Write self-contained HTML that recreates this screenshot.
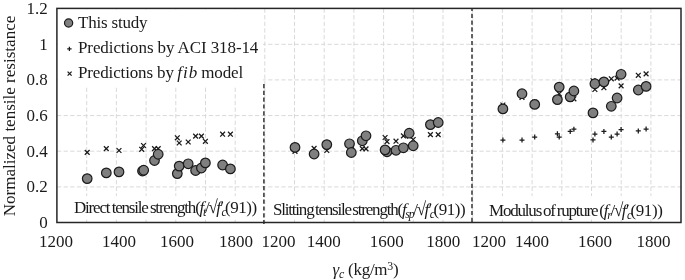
<!DOCTYPE html>
<html><head><meta charset="utf-8"><style>
html,body{margin:0;padding:0;background:#fff;}
body{filter:grayscale(1);}
body{width:685px;height:280px;position:relative;overflow:hidden;font-family:"Liberation Serif",serif;color:#1a1a1a;}
svg{position:absolute;left:0;top:0;}
.g{stroke:#d9d9d9;stroke-width:1;stroke-dasharray:4.3 2.3;}
.dv{stroke:#4a4a4a;stroke-width:1.7;stroke-dasharray:4.2 2.6;}
.x{stroke:#1a1a1a;stroke-width:1.25;fill:none;}
.c{fill:#7f7f7f;stroke:#1a1a1a;stroke-width:1.2;}
.t{position:absolute;white-space:nowrap;font-size:17px;line-height:1;letter-spacing:-0.14px;}
.yl{position:absolute;white-space:nowrap;font-size:17px;line-height:1;text-align:right;width:30px;transform:scaleY(1.04);transform-origin:0 0.5em;}
.xl{position:absolute;white-space:nowrap;font-size:17px;line-height:1;width:40px;text-align:center;}
.lab{position:absolute;white-space:nowrap;font-size:17px;line-height:1;letter-spacing:-1.2px;transform:scaleY(1.04);transform-origin:0 0.84em;}
i{font-style:italic;}
.f1{letter-spacing:-1.3px;}
.rd{display:inline-block;transform:scale(1.0,1.08);transform-origin:0 0.84em;letter-spacing:-1.6px;}
.f2{letter-spacing:-1.6px;}
.f3{letter-spacing:-0.45px;}
sub{font-size:0.7em;vertical-align:baseline;position:relative;top:0.25em;}
</style></head><body>
<svg width="685" height="280" viewBox="0 0 685 280">
<line x1="57" y1="186.9" x2="681" y2="186.9" class="g"/>
<line x1="57" y1="151.2" x2="681" y2="151.2" class="g"/>
<line x1="57" y1="115.6" x2="681" y2="115.6" class="g"/>
<line x1="57" y1="79.9" x2="681" y2="79.9" class="g"/>
<line x1="57" y1="44.3" x2="681" y2="44.3" class="g"/>
<line x1="86.7" y1="8.5" x2="86.7" y2="222" class="g"/>
<line x1="116.4" y1="8.5" x2="116.4" y2="222" class="g"/>
<line x1="146.1" y1="8.5" x2="146.1" y2="222" class="g"/>
<line x1="175.8" y1="8.5" x2="175.8" y2="222" class="g"/>
<line x1="205.5" y1="8.5" x2="205.5" y2="222" class="g"/>
<line x1="235.2" y1="8.5" x2="235.2" y2="222" class="g"/>
<line x1="264.8" y1="8.5" x2="264.8" y2="222" class="g"/>
<line x1="294.5" y1="8.5" x2="294.5" y2="222" class="g"/>
<line x1="324.2" y1="8.5" x2="324.2" y2="222" class="g"/>
<line x1="353.9" y1="8.5" x2="353.9" y2="222" class="g"/>
<line x1="383.6" y1="8.5" x2="383.6" y2="222" class="g"/>
<line x1="413.3" y1="8.5" x2="413.3" y2="222" class="g"/>
<line x1="443.0" y1="8.5" x2="443.0" y2="222" class="g"/>
<line x1="472.7" y1="8.5" x2="472.7" y2="222" class="g"/>
<line x1="502.4" y1="8.5" x2="502.4" y2="222" class="g"/>
<line x1="532.1" y1="8.5" x2="532.1" y2="222" class="g"/>
<line x1="561.8" y1="8.5" x2="561.8" y2="222" class="g"/>
<line x1="591.5" y1="8.5" x2="591.5" y2="222" class="g"/>
<line x1="621.2" y1="8.5" x2="621.2" y2="222" class="g"/>
<line x1="650.9" y1="8.5" x2="650.9" y2="222" class="g"/>
<rect x="58" y="9.5" width="205" height="77" fill="#fff"/>
<rect x="60" y="196" width="202" height="23" fill="#fff"/>
<rect x="267" y="196" width="202" height="23" fill="#fff"/>
<rect x="475" y="196" width="204" height="23" fill="#fff"/>
<line x1="263.9" y1="84" x2="263.9" y2="224" class="dv"/>
<line x1="472" y1="8.4" x2="472" y2="224" class="dv" style="stroke-dashoffset:1.5"/>
<path d="M84.80 150.00L89.60 154.80M84.80 154.80L89.60 150.00" class="x"/>
<path d="M103.90 146.20L108.70 151.00M103.90 151.00L108.70 146.20" class="x"/>
<path d="M116.60 148.10L121.40 152.90M116.60 152.90L121.40 148.10" class="x"/>
<path d="M139.30 146.90L144.10 151.70M139.30 151.70L144.10 146.90" class="x"/>
<path d="M141.10 143.10L145.90 147.90M141.10 147.90L145.90 143.10" class="x"/>
<path d="M152.10 146.20L156.90 151.00M152.10 151.00L156.90 146.20" class="x"/>
<path d="M155.80 146.20L160.60 151.00M155.80 151.00L160.60 146.20" class="x"/>
<path d="M174.90 135.40L179.70 140.20M174.90 140.20L179.70 135.40" class="x"/>
<path d="M176.80 140.60L181.60 145.40M176.80 145.40L181.60 140.60" class="x"/>
<path d="M185.80 139.60L190.60 144.40M185.80 144.40L190.60 139.60" class="x"/>
<path d="M193.20 133.70L198.00 138.50M193.20 138.50L198.00 133.70" class="x"/>
<path d="M199.00 133.70L203.80 138.50M199.00 138.50L203.80 133.70" class="x"/>
<path d="M203.00 138.90L207.80 143.70M203.00 143.70L207.80 138.90" class="x"/>
<path d="M220.20 131.80L225.00 136.60M220.20 136.60L225.00 131.80" class="x"/>
<path d="M228.00 131.80L232.80 136.60M228.00 136.60L232.80 131.80" class="x"/>
<circle cx="87.20" cy="178.60" r="4.8" class="c"/>
<circle cx="106.30" cy="172.90" r="4.8" class="c"/>
<circle cx="119.00" cy="171.90" r="4.8" class="c"/>
<circle cx="142.50" cy="171.00" r="4.8" class="c"/>
<circle cx="143.70" cy="170.20" r="4.8" class="c"/>
<circle cx="154.50" cy="160.50" r="4.8" class="c"/>
<circle cx="158.20" cy="154.30" r="4.8" class="c"/>
<circle cx="177.30" cy="173.60" r="4.8" class="c"/>
<circle cx="179.20" cy="166.10" r="4.8" class="c"/>
<circle cx="188.20" cy="163.80" r="4.8" class="c"/>
<circle cx="195.60" cy="170.50" r="4.8" class="c"/>
<circle cx="201.40" cy="168.00" r="4.8" class="c"/>
<circle cx="205.40" cy="162.90" r="4.8" class="c"/>
<circle cx="222.60" cy="165.00" r="4.8" class="c"/>
<circle cx="230.40" cy="168.90" r="4.8" class="c"/>
<path d="M292.60 148.90L297.40 153.70M292.60 153.70L297.40 148.90" class="x"/>
<path d="M311.70 146.00L316.50 150.80M311.70 150.80L316.50 146.00" class="x"/>
<path d="M324.40 148.10L329.20 152.90M324.40 152.90L329.20 148.10" class="x"/>
<path d="M347.10 146.90L351.90 151.70M347.10 151.70L351.90 146.90" class="x"/>
<path d="M348.90 143.10L353.70 147.90M348.90 147.90L353.70 143.10" class="x"/>
<path d="M359.90 146.20L364.70 151.00M359.90 151.00L364.70 146.20" class="x"/>
<path d="M363.60 146.50L368.40 151.30M363.60 151.30L368.40 146.50" class="x"/>
<path d="M382.70 135.10L387.50 139.90M382.70 139.90L387.50 135.10" class="x"/>
<path d="M384.60 139.20L389.40 144.00M384.60 144.00L389.40 139.20" class="x"/>
<path d="M393.60 138.80L398.40 143.60M393.60 143.60L398.40 138.80" class="x"/>
<path d="M401.00 133.50L405.80 138.30M401.00 138.30L405.80 133.50" class="x"/>
<path d="M406.80 133.70L411.60 138.50M406.80 138.50L411.60 133.70" class="x"/>
<path d="M410.80 137.10L415.60 141.90M410.80 141.90L415.60 137.10" class="x"/>
<path d="M428.00 132.20L432.80 137.00M428.00 137.00L432.80 132.20" class="x"/>
<path d="M435.80 132.20L440.60 137.00M435.80 137.00L440.60 132.20" class="x"/>
<circle cx="295.00" cy="147.40" r="4.8" class="c"/>
<circle cx="314.10" cy="154.00" r="4.8" class="c"/>
<circle cx="326.80" cy="144.60" r="4.8" class="c"/>
<circle cx="349.50" cy="143.80" r="4.8" class="c"/>
<circle cx="351.30" cy="152.50" r="4.8" class="c"/>
<circle cx="362.30" cy="140.80" r="4.8" class="c"/>
<circle cx="366.00" cy="135.80" r="4.8" class="c"/>
<circle cx="387.00" cy="151.80" r="4.8" class="c"/>
<circle cx="385.10" cy="149.90" r="4.8" class="c"/>
<circle cx="396.00" cy="150.30" r="4.8" class="c"/>
<circle cx="403.40" cy="147.80" r="4.8" class="c"/>
<circle cx="409.20" cy="133.20" r="4.8" class="c"/>
<circle cx="413.20" cy="145.80" r="4.8" class="c"/>
<circle cx="430.40" cy="124.60" r="4.8" class="c"/>
<circle cx="438.20" cy="122.50" r="4.8" class="c"/>
<path d="M500.50 102.60L505.30 107.40M500.50 107.40L505.30 102.60" class="x"/>
<path d="M500.40 140.00H505.40M502.90 137.50V142.50" class="x"/>
<path d="M519.60 94.90L524.40 99.70M519.60 99.70L524.40 94.90" class="x"/>
<path d="M519.50 140.00H524.50M522.00 137.50V142.50" class="x"/>
<path d="M532.30 99.60L537.10 104.40M532.30 104.40L537.10 99.60" class="x"/>
<path d="M532.20 137.10H537.20M534.70 134.60V139.60" class="x"/>
<path d="M555.00 97.50L559.80 102.30M555.00 102.30L559.80 97.50" class="x"/>
<path d="M554.90 133.80H559.90M557.40 131.30V136.30" class="x"/>
<path d="M556.80 91.40L561.60 96.20M556.80 96.20L561.60 91.40" class="x"/>
<path d="M556.70 137.10H561.70M559.20 134.60V139.60" class="x"/>
<path d="M567.80 96.60L572.60 101.40M567.80 101.40L572.60 96.60" class="x"/>
<path d="M567.70 131.40H572.70M570.20 128.90V133.90" class="x"/>
<path d="M571.50 96.40L576.30 101.20M571.50 101.20L576.30 96.40" class="x"/>
<path d="M571.40 129.20H576.40M573.90 126.70V131.70" class="x"/>
<path d="M590.60 78.40L595.40 83.20M590.60 83.20L595.40 78.40" class="x"/>
<path d="M590.50 139.90H595.50M593.00 137.40V142.40" class="x"/>
<path d="M592.50 87.10L597.30 91.90M592.50 91.90L597.30 87.10" class="x"/>
<path d="M592.40 134.00H597.40M594.90 131.50V136.50" class="x"/>
<path d="M601.50 85.30L606.30 90.10M601.50 90.10L606.30 85.30" class="x"/>
<path d="M601.40 131.40H606.40M603.90 128.90V133.90" class="x"/>
<path d="M608.90 76.40L613.70 81.20M608.90 81.20L613.70 76.40" class="x"/>
<path d="M608.80 137.10H613.80M611.30 134.60V139.60" class="x"/>
<path d="M614.70 75.70L619.50 80.50M614.70 80.50L619.50 75.70" class="x"/>
<path d="M614.60 134.00H619.60M617.10 131.50V136.50" class="x"/>
<path d="M618.70 83.50L623.50 88.30M618.70 88.30L623.50 83.50" class="x"/>
<path d="M618.60 129.60H623.60M621.10 127.10V132.10" class="x"/>
<path d="M635.90 72.90L640.70 77.70M635.90 77.70L640.70 72.90" class="x"/>
<path d="M635.80 130.90H640.80M638.30 128.40V133.40" class="x"/>
<path d="M643.70 71.50L648.50 76.30M643.70 76.30L648.50 71.50" class="x"/>
<path d="M643.60 129.10H648.60M646.10 126.60V131.60" class="x"/>
<circle cx="502.90" cy="108.90" r="4.8" class="c"/>
<circle cx="522.00" cy="93.70" r="4.8" class="c"/>
<circle cx="534.70" cy="104.40" r="4.8" class="c"/>
<circle cx="557.40" cy="99.60" r="4.8" class="c"/>
<circle cx="559.20" cy="87.10" r="4.8" class="c"/>
<circle cx="570.20" cy="96.90" r="4.8" class="c"/>
<circle cx="573.90" cy="91.00" r="4.8" class="c"/>
<circle cx="593.00" cy="112.90" r="4.8" class="c"/>
<circle cx="594.90" cy="83.70" r="4.8" class="c"/>
<circle cx="603.90" cy="81.90" r="4.8" class="c"/>
<circle cx="611.30" cy="106.30" r="4.8" class="c"/>
<circle cx="617.10" cy="98.00" r="4.8" class="c"/>
<circle cx="621.10" cy="74.30" r="4.8" class="c"/>
<circle cx="638.30" cy="90.00" r="4.8" class="c"/>
<circle cx="646.10" cy="86.40" r="4.8" class="c"/>
<circle cx="68.6" cy="23" r="4.1" class="c"/>
<path d="M67.20 48.90H71.60M69.40 46.70V51.10" class="x"/>
<path d="M67.60 71.60L71.60 75.60M67.60 75.60L71.60 71.60" class="x"/>
<rect x="56.9" y="8.4" width="624.1" height="214.1" fill="none" stroke="#262626" stroke-width="1.5"/>
</svg>
<div class="yl" style="left:17.8px;top:-0.2px">1.2</div>
<div class="yl" style="left:17.8px;top:35.5px">1</div>
<div class="yl" style="left:17.8px;top:71.2px">0.8</div>
<div class="yl" style="left:17.8px;top:106.9px">0.6</div>
<div class="yl" style="left:17.8px;top:142.7px">0.4</div>
<div class="yl" style="left:17.8px;top:178.4px">0.2</div>
<div class="yl" style="left:17.8px;top:214.1px">0</div>
<div class="xl" style="left:36.0px;top:233.4px">1200</div>
<div class="xl" style="left:99.1px;top:233.4px">1400</div>
<div class="xl" style="left:157.0px;top:233.4px">1600</div>
<div class="xl" style="left:216.0px;top:233.4px">1800</div>
<div class="xl" style="left:258.5px;top:233.4px">1200</div>
<div class="xl" style="left:303.7px;top:233.4px">1400</div>
<div class="xl" style="left:366.8px;top:233.4px">1600</div>
<div class="xl" style="left:423.3px;top:233.4px">1800</div>
<div class="xl" style="left:468.9px;top:233.4px">1200</div>
<div class="xl" style="left:511.9px;top:233.4px">1400</div>
<div class="xl" style="left:574.9px;top:233.4px">1600</div>
<div class="xl" style="left:633.5px;top:233.4px">1800</div>
<div class="t" style="left:78px;top:14px;letter-spacing:-0.2px">This study</div>
<div class="t" style="left:78px;top:39px;letter-spacing:-0.1px">Predictions by ACI 318-14</div>
<div class="t" style="left:78px;top:64px">Predictions by <i style="margin-left:-0.6px"><span style="letter-spacing:1px">fi</span>b</i> model</div>
<div class="lab" style="left:74px;top:199px;word-spacing:-0.7px">Direct tensile strength<span class="f1">(<i>f<sub>t</sub></i>/</span><span class="rd">&radic;</span><i class="f2">f&#8242;<sub>c</sub></i><span class="f3">(91))</span></div>
<div class="lab" style="left:273px;top:201px;word-spacing:-1.6px">Slitting tensile strength<span class="f1">(<i>f<sub>sp</sub></i>/</span><span class="rd">&radic;</span><i class="f2">f&#8242;<sub>c</sub></i><span class="f3">(91))</span></div>
<div class="lab" style="left:489px;top:202px;word-spacing:-1.1px">Modulus of rupture <span class="f1">(<i>f<sub>r</sub></i>/</span><span class="rd">&radic;</span><i class="f2">f&#8242;<sub>c</sub></i><span class="f3">(91))</span></div>
<div class="t" style="left:10px;top:115.8px;font-size:16px;letter-spacing:0;transform:translate(-50%,-50%) rotate(-90deg) scaleX(1.065);transform-origin:center;">Normalized tensile resistance</div>
<div class="t" style="left:332.5px;top:261px;letter-spacing:-0.25px"><i>&gamma;<sub>c</sub></i> (kg/m<sup style="font-size:0.7em;vertical-align:baseline;position:relative;top:-0.42em">3</sup>)</div>
</body></html>
